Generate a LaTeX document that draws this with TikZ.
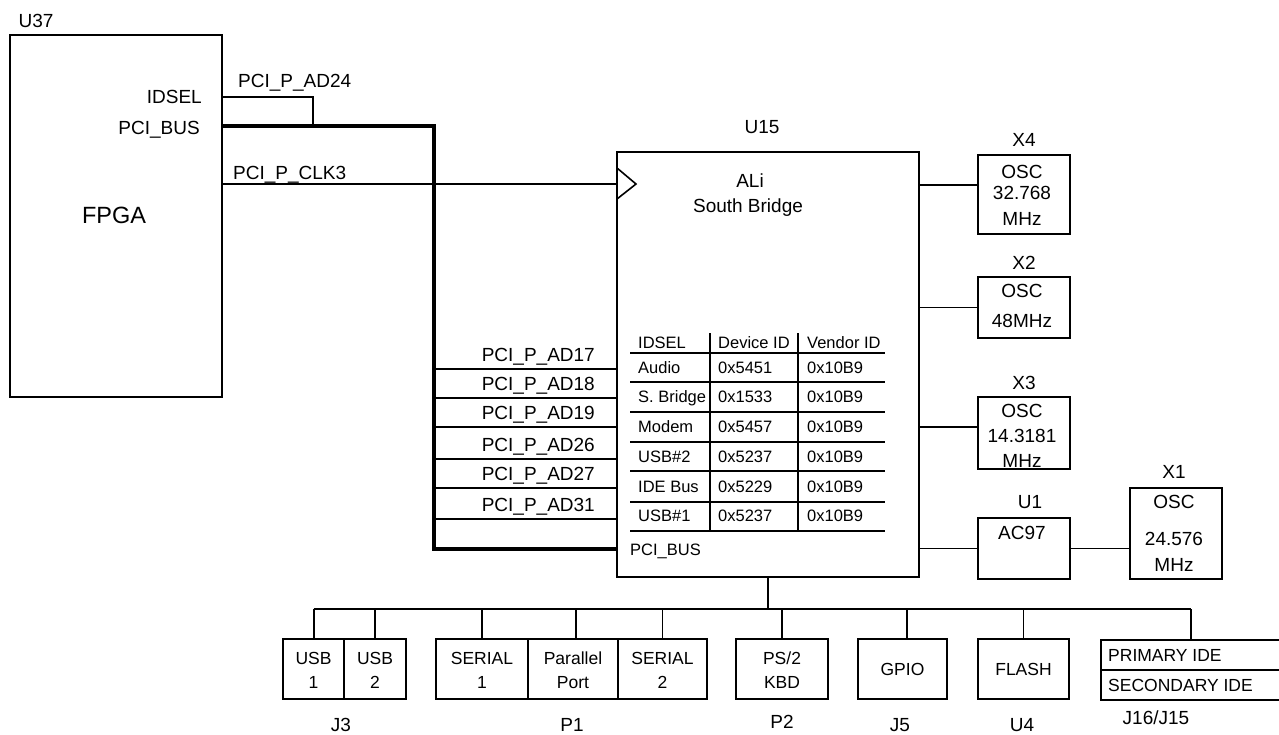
\documentclass[tikz,border=0pt]{standalone}
\usepackage{fontspec}
\setmainfont{Liberation Sans}
\begin{document}
\begin{tikzpicture}[x=1pt,y=-1pt,
  box/.style={draw, line width=1.6pt, inner sep=0pt},
  wire/.style={line width=1.6pt},
  buswire/.style={line width=4.6pt, line join=miter},
  tline/.style={line width=1.1pt},
  lbl/.style={inner sep=0pt, font=\fontsize{19}{23}\selectfont, text height=13.6pt, text depth=0pt},
  tbl/.style={inner sep=0pt, font=\fontsize{16.5}{20}\selectfont, text height=11.8pt, text depth=0pt, anchor=west},
  sml/.style={inner sep=0pt, font=\fontsize{17.5}{21}\selectfont, text height=12.5pt, text depth=0pt},
  big/.style={inner sep=0pt, font=\fontsize{23.5}{28}\selectfont, text height=16.8pt, text depth=0pt}]
\useasboundingbox (0,0) rectangle (1279,734);

% ---------- FPGA U37 ----------
\node[box, minimum width=212pt, minimum height=362pt] (u37) at (116,216) {};
\node[lbl] (u37n) at (36,21) {U37};
\node[big] (fpga) at (114,215) {FPGA};
\node[lbl, anchor=east] (idsel) at (202,97) {IDSEL};
\node[lbl, anchor=east] (pcibusL) at (200,128) {PCI\_BUS};

\coordinate (pidsel) at (222,97);
\coordinate (pbus) at (221,126);
\coordinate (pclk) at (222,184);
\coordinate (j24) at (313,126);
\coordinate (bcorner) at (434,126);
\coordinate (u15bus) at (617,549);

\draw[wire] (pidsel) -| (j24);
\node[lbl, anchor=west] (lad24) at (238,81) {PCI\_P\_AD24};
\node[lbl, anchor=west] (lclk) at (233,173) {PCI\_P\_CLK3};

% ---------- South bridge U15 ----------
\node[box, minimum width=302pt, minimum height=425pt] (u15) at (768,364.5) {};
\node[lbl] (u15n) at (762,127) {U15};
\node[lbl] (ali) at (750,181) {ALi};
\node[lbl] (sb) at (748,206) {South Bridge};
\draw[wire] (pclk) -- (pclk -| u15.west);
\draw[wire, line join=miter] (617,168) -- (636,184) -- (617,199);

\draw[buswire] (pbus) -- (bcorner) |- (u15bus);
\foreach \y/\t [count=\i] in {369/17,398/18,427/19,459/26,488/27,519/31} {
  \coordinate (ad\i) at (617,\y);
  \draw[wire] (bcorner |- ad\i) -- (ad\i);
  \node[lbl, anchor=east] (lad\t) at (595,\y-14) {PCI\_P\_AD\t};
}
\node[tbl] (pcibusR) at (630,550) {PCI\_BUS};

% table
\foreach \y in {353,382,412,442,471,502,531} \draw[tline] (630,\y) -- (885,\y);
\foreach \x in {710,798} \draw[tline] (\x,333) -- (\x,531);
\node[tbl] (h1) at (638,343) {IDSEL};
\node[tbl] (h2) at (718,343) {Device ID};
\node[tbl] (h3) at (807,343) {Vendor ID};
\foreach \y/\a/\b [count=\i] in {368/Audio/0x5451, 397/S. Bridge/0x1533, 427/Modem/0x5457, 457/USB\#2/0x5237, 487/IDE Bus/0x5229, 516/USB\#1/0x5237} {
  \node[tbl] (ra\i) at (638,\y) {\a};
  \node[tbl] (rb\i) at (718,\y) {\b};
  \node[tbl] (rc\i) at (807,\y) {0x10B9};
}

% ---------- oscillators ----------
\node[box, minimum width=92pt, minimum height=79pt] (x4) at (1024,194.5) {};
\node[box, minimum width=92pt, minimum height=61pt] (x2) at (1024,307.5) {};
\node[box, minimum width=92pt, minimum height=72pt] (x3) at (1024,433) {};
\node[box, minimum width=92pt, minimum height=61pt] (u1) at (1024,548.5) {};
\node[box, minimum width=92pt, minimum height=91pt] (x1) at (1176,533.5) {};

\node[lbl] (x4n) at (1024,140) {X4};
\node[lbl] at (1022,172) {OSC};
\node[lbl] at (1022,193) {32.768};
\node[lbl] at (1022,219) {MHz};
\node[lbl] (x2n) at (1024,263) {X2};
\node[lbl] at (1022,291) {OSC};
\node[lbl] at (1022,321) {48MHz};
\node[lbl] (x3n) at (1024,383) {X3};
\node[lbl] at (1022,411) {OSC};
\node[lbl] at (1022,436) {14.3181};
\node[lbl] at (1022,461) {MHz};
\node[lbl] (u1n) at (1030,502) {U1};
\node[lbl] at (1022,533) {AC97};
\node[lbl] (x1n) at (1174,472) {X1};
\node[lbl] at (1174,502) {OSC};
\node[lbl] at (1174,539) {24.576};
\node[lbl] at (1174,565) {MHz};

\coordinate (k4) at (0,185);
\coordinate (k3) at (0,427);
\draw[wire] (u15.east |- k4) -- (x4.west |- k4);
\draw[wire] (u15.east |- x2.west) -- (x2.west);
\draw[wire] (u15.east |- k3) -- (x3.west |- k3);
\draw[wire] (u15.east |- u1.west) -- (u1.west);
\draw[wire] (u1.east) -- (x1.west |- u1.east);

% ---------- bottom peripherals ----------
\node[box, minimum width=61pt, minimum height=60pt] (usb1) at (313.5,669) {};
\node[box, minimum width=62pt, minimum height=60pt] (usb2) at (375,669) {};
\node[box, minimum width=92pt, minimum height=60pt] (ser1) at (482,669) {};
\node[box, minimum width=90pt, minimum height=60pt] (par) at (573,669) {};
\node[box, minimum width=89pt, minimum height=60pt] (ser2) at (662.5,669) {};
\node[box, minimum width=92pt, minimum height=60pt] (ps2) at (782,669) {};
\node[box, minimum width=89pt, minimum height=60pt] (gpio) at (902.5,669) {};
\node[box, minimum width=91pt, minimum height=60pt] (flash) at (1023.5,669) {};
\begin{scope}
  \clip (0,0) rectangle (1279,734);
  \node[box, minimum width=190pt, minimum height=30pt, anchor=north west] (ide1) at (1100,639) {};
  \node[box, minimum width=190pt, minimum height=30pt, anchor=north west] (ide2) at (1100,669) {};
\end{scope}

\node[sml] at (313.5,658) {USB};
\node[sml] at (313.5,682) {1};
\node[sml] at (375,658) {USB};
\node[sml] at (375,682) {2};
\node[sml] at (482,658) {SERIAL};
\node[sml] at (482,682) {1};
\node[sml] at (573,658) {Parallel};
\node[sml] at (573,682) {Port};
\node[sml] at (662.5,658) {SERIAL};
\node[sml] at (662.5,682) {2};
\node[sml] at (782,658) {PS/2};
\node[sml] at (782,682) {KBD};
\node[sml] at (902.5,669) {GPIO};
\node[sml] at (1023.5,669) {FLASH};
\node[sml, anchor=west] at (1108,655) {PRIMARY IDE};
\node[sml, anchor=west] at (1108,685) {SECONDARY IDE};

\node[lbl] (j3) at (341,725) {J3};
\node[lbl] (p1) at (572,725) {P1};
\node[lbl] (p2) at (782,722) {P2};
\node[lbl] (j5) at (900,725) {J5};
\node[lbl] (u4) at (1022,725) {U4};
\node[lbl] (j16) at (1156,718) {J16/J15};

\coordinate (busL) at (314,609);
\coordinate (ideTop) at (1191,639);
\draw[wire] (u15.south) -- (u15.south |- busL);
\draw[wire] (usb1.north |- busL) -- (ideTop |- busL);
\draw[wire] (314,639) -- (314,609);
\draw[wire] (usb2.north) -- (usb2.north |- busL);
\draw[wire] (ser1.north) -- (ser1.north |- busL);
\draw[wire] (576,639) -- (576,609);
\draw[wire] (ser2.north) -- (ser2.north |- busL);
\draw[wire] (ps2.north) -- (ps2.north |- busL);
\draw[wire] (907,639) -- (907,609);
\draw[wire] (flash.north) -- (flash.north |- busL);
\draw[wire] (ideTop) -- (ideTop |- busL);
\end{tikzpicture}
\end{document}
